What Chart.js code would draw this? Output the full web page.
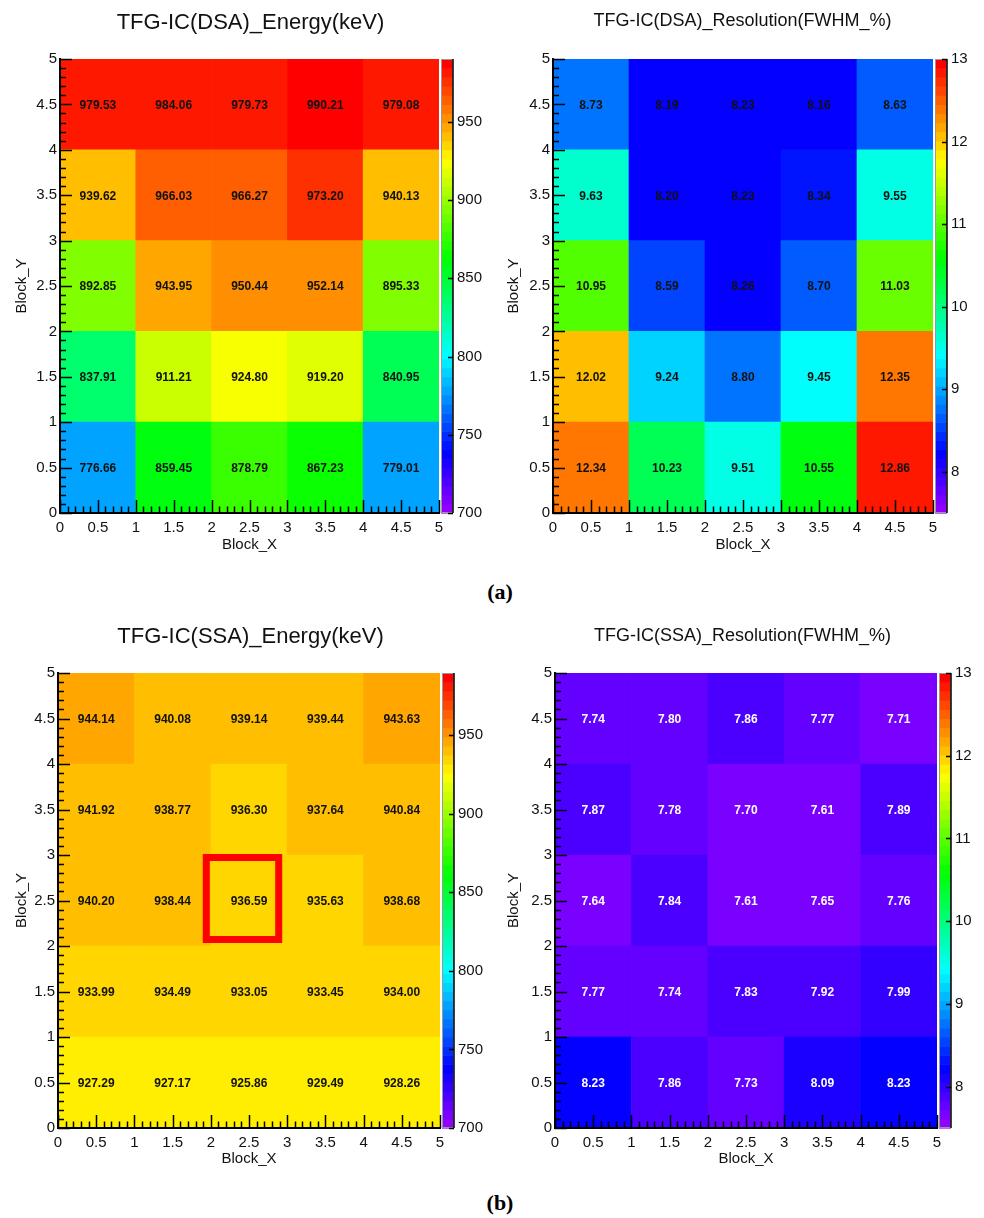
<!DOCTYPE html>
<html>
<head>
<meta charset="utf-8">
<script src="https://cdn.jsdelivr.net/npm/chart.js@4.4.1/dist/chart.umd.min.js"></script>
<style>
  body { margin: 0; background: #fff; width: 984px; height: 1218px; position: relative; overflow: hidden; }
  .pad { position: absolute; width: 492px; height: 560px; }
  .tag { position: absolute; font: bold 22px "Liberation Serif", "Times New Roman", serif; color: #000; transform: translate(-50%, -50%); }
</style>
</head>
<body>
<div class="pad" style="left:0;top:0"><canvas id="dsaEnergy" width="492" height="560"></canvas></div>
<div class="pad" style="left:492px;top:0"><canvas id="dsaRes" width="492" height="560"></canvas></div>
<div class="pad" style="left:0;top:614px"><canvas id="ssaEnergy" width="492" height="560"></canvas></div>
<div class="pad" style="left:492px;top:614px"><canvas id="ssaRes" width="492" height="560"></canvas></div>
<div class="tag" style="left:500px;top:592px">(a)</div>
<div class="tag" style="left:500px;top:1203px">(b)</div>

<script>
// bin centres of the 5x5 block map
const blockX = [0.5, 1.5, 2.5, 3.5, 4.5];
const blockY = [0.5, 1.5, 2.5, 3.5, 4.5];

// rows from Block_Y = 0.5 (bottom) to 4.5 (top)
const energyDSA = [
  [776.66, 859.45, 878.79, 867.23, 779.01],
  [837.91, 911.21, 924.80, 919.20, 840.95],
  [892.85, 943.95, 950.44, 952.14, 895.33],
  [939.62, 966.03, 966.27, 973.20, 940.13],
  [979.53, 984.06, 979.73, 990.21, 979.08]
];
const resolutionDSA = [
  [12.34, 10.23, 9.51, 10.55, 12.86],
  [12.02, 9.24, 8.80, 9.45, 12.35],
  [10.95, 8.59, 8.26, 8.70, 11.03],
  [9.63, 8.20, 8.23, 8.34, 9.55],
  [8.73, 8.19, 8.23, 8.16, 8.63]
];
const energySSA = [
  [927.29, 927.17, 925.86, 929.49, 928.26],
  [933.99, 934.49, 933.05, 933.45, 934.00],
  [940.20, 938.44, 936.59, 935.63, 938.68],
  [941.92, 938.77, 936.30, 937.64, 940.84],
  [944.14, 940.08, 939.14, 939.44, 943.63]
];
const resolutionSSA = [
  [8.23, 7.86, 7.73, 8.09, 8.23],
  [7.77, 7.74, 7.83, 7.92, 7.99],
  [7.64, 7.84, 7.61, 7.65, 7.76],
  [7.87, 7.78, 7.70, 7.61, 7.89],
  [7.74, 7.80, 7.86, 7.77, 7.71]
];

// colour scale (z) ranges and palette-axis steps
const energyRangeDSA = [700, 990.21];
const energyRangeSSA = [700, 989.5];
const resolutionRange = [7.5, 13];
const energyStep = 50;
const resolutionStep = 1;

// marked block in the SSA energy map [col, row]
const markedBlock = [2, 2];

const FONT = '"Liberation Sans", Arial, Helvetica, sans-serif';
const NCOL = 50;
const PADL = 9;

// ROOT "pretty" palette: hue 280 -> 0, 50 steps
function paletteColor(i) {
  const hue = 280 - (i + 1) * (280 / NCOL);
  return 'hsl(' + hue.toFixed(1) + ',100%,50%)';
}
function valueColor(v, range) {
  let i = Math.floor(0.01 + (v - range[0]) / (range[1] - range[0]) * NCOL);
  i = Math.max(0, Math.min(NCOL - 1, i));
  return paletteColor(i);
}

function buildDatasets(grid, range) {
  return grid.map((row, j) => ({
    data: row.map((v, i) => ({ x: blockX[i], y: [blockY[j] - 0.5, blockY[j] + 0.5], v: v })),
    backgroundColor: row.map(v => valueColor(v, range)),
    borderWidth: 0,
    barThickness: 'flex',
    categoryPercentage: 1,
    barPercentage: 1
  }));
}

const rootStyle = {
  id: 'rootStyle',
  afterDatasetsDraw(chart, args, opts) {
    const ctx = chart.ctx;
    const sx = chart.scales.x, sy = chart.scales.y, sz = chart.scales.z;
    const area = chart.chartArea;
    ctx.save();

    // bin contents
    ctx.font = 'bold 12px ' + FONT;
    ctx.fillStyle = opts.textColor;
    ctx.textAlign = 'center';
    ctx.textBaseline = 'middle';
    chart.data.datasets.forEach((ds, d) => {
      chart.getDatasetMeta(d).data.forEach((bar, i) => {
        ctx.fillText(ds.data[i].v.toFixed(2), bar.x, (bar.y + bar.base) / 2 + 1);
      });
    });

    // marker box
    if (opts.mark) {
      const c = opts.mark;
      const l = sx.getPixelForValue(c[0]), r = sx.getPixelForValue(c[0] + 1);
      const t = sy.getPixelForValue(c[1] + 1), b = sy.getPixelForValue(c[1]);
      ctx.strokeStyle = '#ff0000';
      ctx.lineWidth = 7;
      ctx.strokeRect(l - 4.5, t + 2.5, (r - 8.5) - (l - 4.5), (b - 6.5) - (t + 2.5));
    }

    // inward ROOT-style ticks (10 primary, 5 secondary)
    ctx.strokeStyle = '#000';
    ctx.lineWidth = 1.5;
    ctx.beginPath();
    for (let k = 0; k <= 50; k++) {
      const v = k / 10;
      const major = k % 5 === 0;
      const px = Math.round(sx.getPixelForValue(v)) + 0.5;
      ctx.moveTo(px, area.bottom);
      ctx.lineTo(px, area.bottom - (major ? 13 : 6.5));
      const py = Math.round(sy.getPixelForValue(v)) + 0.5;
      ctx.moveTo(area.left, py);
      ctx.lineTo(area.left + (major ? 12 : 6), py);
    }
    ctx.stroke();

    // palette (colour bar)
    const range = opts.range;
    const bx = area.right + 2, bw = 12;
    for (let i = 0; i < NCOL; i++) {
      const a = range[0] + (range[1] - range[0]) * i / NCOL;
      const b = range[0] + (range[1] - range[0]) * (i + 1) / NCOL;
      const y0 = sz.getPixelForValue(a), y1 = sz.getPixelForValue(b);
      ctx.fillStyle = paletteColor(i);
      ctx.fillRect(bx, y1, bw, y0 - y1 + 0.6);
    }
    ctx.lineWidth = 1;
    ctx.strokeStyle = '#999';
    ctx.strokeRect(bx + 0.5, area.top + 0.5, bw - 1, area.bottom - area.top - 1);
    ctx.strokeStyle = '#000';
    ctx.lineWidth = 1.5;
    ctx.beginPath();
    ctx.moveTo(bx + bw, area.top);
    ctx.lineTo(bx + bw, area.bottom);
    sz.ticks.forEach(t => {
      const py = Math.round(sz.getPixelForValue(t.value)) + 0.5;
      ctx.moveTo(bx + bw, py);
      ctx.lineTo(bx + bw - 5, py);
    });
    ctx.stroke();
    ctx.restore();
  }
};

function makeChart(id, cfg) {
  const txt = { family: FONT, size: 15 };
  return new Chart(document.getElementById(id), {
    type: 'bar',
    data: { datasets: buildDatasets(cfg.grid, cfg.range) },
    plugins: [rootStyle],
    options: {
      responsive: false,
      animation: false,
      events: [],
      layout: { padding: { left: PADL, right: 0, top: 0, bottom: 0 } },
      plugins: {
        legend: { display: false },
        tooltip: { enabled: false },
        title: {
          display: true,
          text: cfg.title,
          color: '#111',
          font: { family: FONT, size: cfg.titleSize, weight: 'normal', lineHeight: 1.2 },
          padding: { top: cfg.titleTop, bottom: cfg.top - cfg.titleTop - cfg.titleSize * 1.2 }
        },
        rootStyle: { range: cfg.range, textColor: cfg.textColor, mark: cfg.mark || null }
      },
      scales: {
        x: {
          type: 'linear', min: 0, max: 5, offset: false, stacked: true,
          grid: { display: false, drawTicks: false },
          border: { display: true, color: '#000', width: 2, z: 1 },
          ticks: { stepSize: 0.5, autoSkip: false, maxRotation: 0, color: '#111', font: txt, padding: 6,
                   callback: v => String(v) },
          title: { display: true, text: 'Block_X', color: '#111', font: txt, padding: { top: 0, bottom: 6 } },
          afterFit: s => { s.height = 560 - cfg.bottom; }
        },
        y: {
          type: 'linear', position: 'left', min: 0, max: 5,
          grid: { display: false, drawTicks: false },
          border: { display: true, color: '#000', width: 2, z: 1 },
          ticks: { stepSize: 0.5, autoSkip: false, color: '#111', font: txt, padding: 3,
                   callback: v => String(v) },
          title: { display: true, text: 'Block_Y', color: '#111', font: txt, padding: { top: 4, bottom: 0 } },
          afterFit: s => { s.width = cfg.left - PADL; }
        },
        z: {
          type: 'linear', position: 'right', min: cfg.range[0], max: cfg.range[1],
          grid: { display: false, drawTicks: false },
          border: { display: false },
          ticks: { stepSize: cfg.step, includeBounds: false, autoSkip: false, color: '#111', font: txt, padding: 18,
                   callback: v => String(v) },
          afterFit: s => { s.width = 492 - cfg.right; }
        }
      }
    }
  });
}

makeChart('dsaEnergy', {
  grid: energyDSA, range: energyRangeDSA, step: energyStep,
  title: 'TFG-IC(DSA)_Energy(keV)', titleSize: 22, titleTop: 10,
  left: 60, right: 439, top: 59, bottom: 513, textColor: '#111'
});
makeChart('dsaRes', {
  grid: resolutionDSA, range: resolutionRange, step: resolutionStep,
  title: 'TFG-IC(DSA)_Resolution(FWHM_%)', titleSize: 18, titleTop: 10,
  left: 61, right: 441, top: 59, bottom: 513, textColor: '#111'
});
makeChart('ssaEnergy', {
  grid: energySSA, range: energyRangeSSA, step: energyStep,
  title: 'TFG-IC(SSA)_Energy(keV)', titleSize: 22, titleTop: 10,
  left: 58, right: 440, top: 59, bottom: 514, textColor: '#111', mark: markedBlock
});
makeChart('ssaRes', {
  grid: resolutionSSA, range: resolutionRange, step: resolutionStep,
  title: 'TFG-IC(SSA)_Resolution(FWHM_%)', titleSize: 18, titleTop: 11,
  left: 63, right: 445, top: 59, bottom: 514, textColor: '#fff'
});
</script>
</body>
</html>
